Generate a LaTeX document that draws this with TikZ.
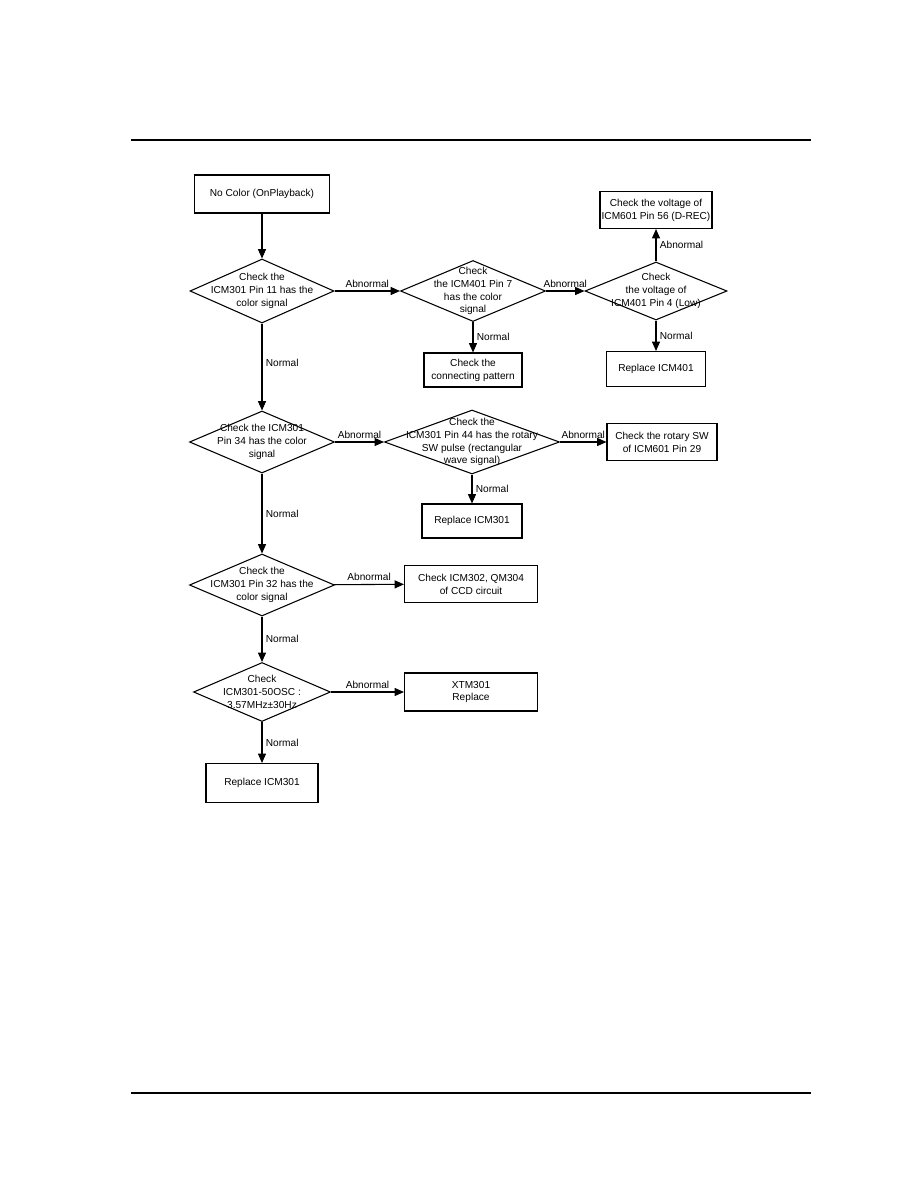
\documentclass[tikz,border=0pt]{standalone}
\usepackage{fontspec}
\setmainfont{Liberation Sans}
\usepackage{tikz}
\usetikzlibrary{arrows.meta,shapes.geometric}
\newcommand{\ffont}{\fontsize{7.6}{9.6}\selectfont}
\tikzset{
  >={Triangle[length=7pt,width=6pt]},
  fbox/.style 2 args={rectangle, draw=black, line width=0.8pt, align=center,
                      inner sep=1pt, font=\ffont,
                      minimum width=#1*0.75pt, minimum height=#2*0.75pt},
  fdec/.style 2 args={diamond, draw=black, line width=0.8pt, inner sep=0pt,
                      minimum width=#1*0.75pt, minimum height=#2*0.75pt},
  ftxt/.style={align=center, font=\ffont, inner sep=0pt},
  fflow/.style={->, black, line width=0.8pt},
  flbl/.style={font=\ffont, inner sep=2.5pt},
  frule/.style={black, line width=2.2pt},
}

\begin{document}
\begin{tikzpicture}[x=0.75pt,y=-0.75pt]

  % página
  \useasboundingbox (0,0) rectangle (918,1188);
  \draw[frule] (131,140) -- (811,140);
  \draw[frule, line width=1.5pt] (131,1093) -- (811,1093);

  % coluna principal
  \node[fbox={135}{38}] (start) at (262,194) {No Color (OnPlayback)};
  \node[fdec={144}{64}, label={[ftxt]center:{Check the\\ICM301 Pin 11 has the\\color signal}}]
    (p11) at (262,291) {};
  \node[fdec={145}{62}, label={[ftxt]center:{Check the ICM301\\Pin 34 has the color\\signal}}]
    (p34) at (262,442) {};
  \node[fdec={145}{62}, label={[ftxt]center:{Check the\\ICM301 Pin 32 has the\\color signal}}]
    (p32) at (262,585) {};
  \node[fdec={137}{59}, label={[ftxt]center:{Check\\ICM301-50OSC :\\3.57MHz±30Hz}}]
    (osc) at (262,692) {};
  \node[fbox={112}{39}] (rep301b) at (262,783) {Replace ICM301};

  % segunda coluna
  \node[fdec={145}{61}, label={[ftxt]center:{Check\\the ICM401 Pin 7\\has the color\\signal}}]
    (p7) at (473,291) {};
  \node[fbox={98}{34}] (pattern) at (473,370) {Check the\\connecting pattern};
  \node[fdec={175}{64}, label={[ftxt]center:{Check the\\ICM301 Pin 44 has the rotary\\SW pulse (rectangular\\wave signal)}}]
    (p44) at (472,442) {};
  \node[fbox={100}{34}] (rep301a) at (472,521) {Replace ICM301};
  \node[fbox={133}{37}] (ccd) at (471,584) {Check ICM302, QM304\\of CCD circuit};
  \node[fbox={133}{38}] (xtal) at (471,692) {XTM301\\Replace};

  % terceira coluna
  \node[fdec={142}{58}, label={[ftxt]center:{Check\\the voltage of\\ICM401 Pin 4 (Low)}}]
    (p4) at (656,291) {};
  \node[fbox={112}{37}] (drec) at (656,210) {Check the voltage of\\ICM601 Pin 56 (D-REC)};
  \node[fbox={99}{35}] (rep401) at (656,369) {Replace ICM401};
  \node[fbox={110}{37}] (rotsw) at (662,442) {Check the rotary SW\\of ICM601 Pin 29};

  % ligações
  \draw[fflow] (start) -- (p11);
  \draw[fflow] (p11) -- node[flbl, right, pos=0.45] {Normal} (p34);
  \draw[fflow] (p34) -- node[flbl, right] {Normal} (p32);
  \draw[fflow] (p32) -- node[flbl, right] {Normal} (osc);
  \draw[fflow] (osc) -- node[flbl, right] {Normal} (rep301b);

  \draw[fflow] (p11) -- node[flbl, above] {Abnormal} (p7);
  \draw[fflow] (p7) -- node[flbl, above] {Abnormal} (p4);
  \draw[fflow] (p7) -- node[flbl, right] {Normal} (pattern);
  \draw[fflow] (p4) -- node[flbl, right] {Abnormal} (drec);
  \draw[fflow] (p4) -- node[flbl, right] {Normal} (rep401);

  \draw[fflow] (p34) -- node[flbl, above] {Abnormal} (p44);
  \draw[fflow] (p44) -- node[flbl, above] {Abnormal} (rotsw);
  \draw[fflow] (p44) -- node[flbl, right] {Normal} (rep301a);

  \draw[fflow] (p32) -- node[flbl, above] {Abnormal} (ccd);
  \draw[fflow] (osc) -- node[flbl, above] {Abnormal} (xtal);

\end{tikzpicture}
\end{document}
